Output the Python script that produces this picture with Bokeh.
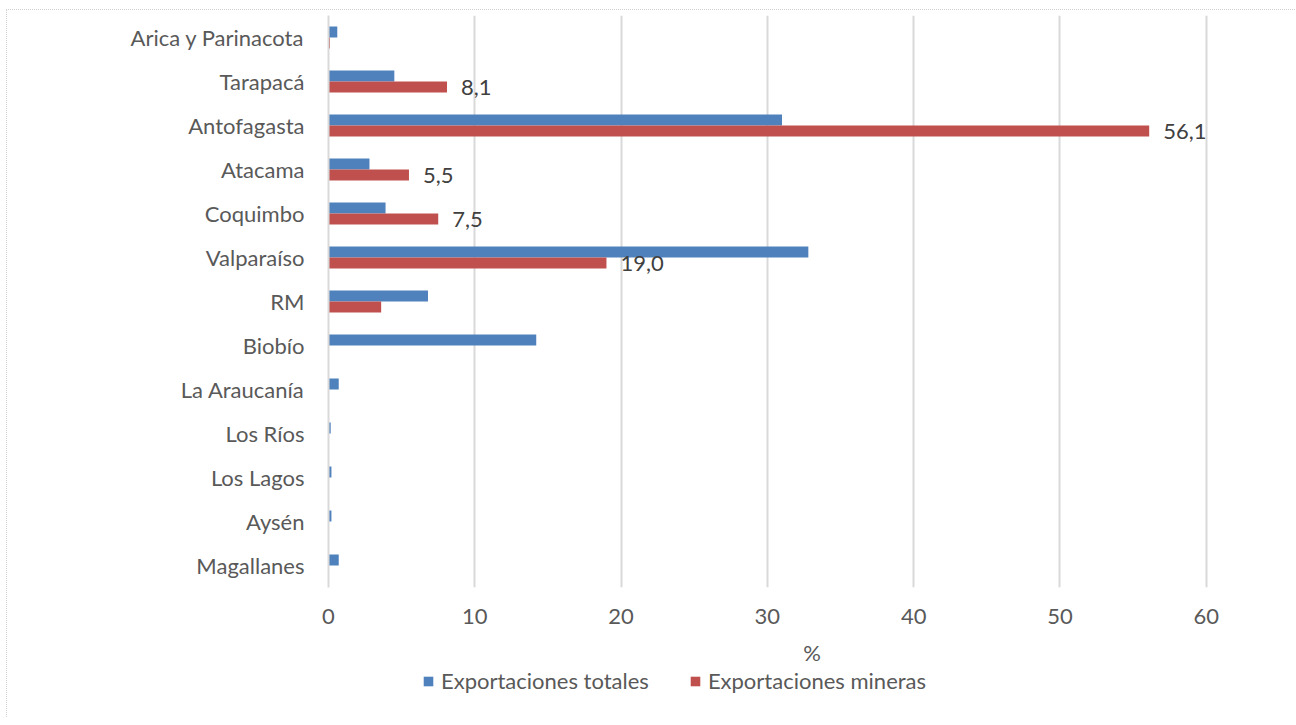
from bokeh.plotting import figure
from bokeh.layouts import column
from bokeh.models import ColumnDataSource, Legend, LegendItem, FactorRange, LabelSet
from bokeh.core.properties import value
from bokeh.transform import dodge
from bokeh.embed import file_html
from bokeh.resources import INLINE

regions = ["Arica y Parinacota", "Tarapacá", "Antofagasta", "Atacama", "Coquimbo",
           "Valparaíso", "RM", "Biobío", "La Araucanía", "Los Ríos", "Los Lagos",
           "Aysén", "Magallanes"]
totales = [0.6, 4.5, 31.0, 2.8, 3.9, 32.8, 6.8, 14.2, 0.7, 0.15, 0.2, 0.2, 0.7]
mineras = [0.1, 8.1, 56.1, 5.5, 7.5, 19.0, 3.6, 0.0, 0.0, 0.0, 0.0, 0.0, 0.0]
label_regions = ["Tarapacá", "Antofagasta", "Atacama", "Coquimbo", "Valparaíso"]
label_values = [8.1, 56.1, 5.5, 7.5, 19.0]
label_text = ["8,1", "56,1", "5,5", "7,5", "19,0"]
series_names = ["Exportaciones totales", "Exportaciones mineras"]

FONT = "Lato"
FS = "22px"
BLUE = "#4F81BD"
RED = "#C0504D"

src = ColumnDataSource(dict(region=regions, totales=totales, mineras=mineras))
lsrc = ColumnDataSource(dict(region=label_regions, v=label_values, t=label_text))

p = figure(width=1288, height=658, output_backend="svg", toolbar_location=None,
           y_range=FactorRange(factors=list(reversed(regions))),
           x_range=(0, 66.1), min_border_left=321, min_border_right=0,
           min_border_top=5, min_border_bottom=73)

rb = p.hbar(y=dodge("region", 0.125, range=p.y_range), right="totales", height=0.25,
            source=src, color=BLUE, line_color=None)
rr = p.hbar(y=dodge("region", -0.125, range=p.y_range), right="mineras", height=0.25,
            source=src, color=RED, line_color=None)

labels = LabelSet(x="v", y=dodge("region", -0.125, range=p.y_range), text="t",
                  x_offset=14, y_offset=0, source=lsrc, text_font=value(FONT),
                  text_font_size=FS, text_color="#404040", text_baseline="middle",
                  text_align="left")
p.add_layout(labels)

p.outline_line_color = None
p.ygrid.grid_line_color = None
p.xgrid.grid_line_color = "#d9d9d9"
p.xgrid.grid_line_width = 2
p.xaxis.ticker = [0, 10, 20, 30, 40, 50, 60]
p.xaxis.axis_line_color = None
p.xaxis.major_tick_line_color = None
p.xaxis.minor_tick_line_color = None
p.xaxis.major_label_text_font = FONT
p.xaxis.major_label_text_font_size = FS
p.xaxis.major_label_text_color = "#595959"
p.xaxis.major_label_standoff = 15
p.xaxis.axis_label = "%"
p.xaxis.axis_label_text_font = FONT
p.xaxis.axis_label_text_font_size = FS
p.xaxis.axis_label_text_font_style = "normal"
p.xaxis.axis_label_text_color = "#595959"
p.xaxis.axis_label_standoff = 12

p.yaxis.axis_line_color = "#d9d9d9"
p.yaxis.axis_line_width = 2
p.yaxis.major_tick_line_color = None
p.yaxis.minor_tick_line_color = None
p.yaxis.major_label_text_font = FONT
p.yaxis.major_label_text_font_size = FS
p.yaxis.major_label_text_color = "#595959"
p.yaxis.major_label_standoff = 18

# legend strip below the chart
pl = figure(width=1288, height=49, output_backend="svg", toolbar_location=None,
            x_axis_type=None, y_axis_type=None, x_range=(0, 1), y_range=(0, 1),
            min_border=0)
pl.outline_line_color = None
pl.xgrid.grid_line_color = None
pl.ygrid.grid_line_color = None
gb = pl.rect(x=[-5], y=[-5], width=1, height=1, color=BLUE, line_color=None)
gr = pl.rect(x=[-5], y=[-5], width=1, height=1, color=RED, line_color=None)
legend = Legend(items=[LegendItem(label=series_names[0], renderers=[gb]),
                       LegendItem(label=series_names[1], renderers=[gr])],
                orientation="horizontal", location=(94, 23),
                label_text_font=FONT, label_text_font_size=FS,
                label_text_color="#595959", glyph_width=12, glyph_height=12,
                spacing=40, padding=0, margin=0, border_line_color=None,
                background_fill_alpha=0, label_standoff=7, label_height=19)
pl.add_layout(legend, "center")

layout = column(p, pl, spacing=0)
layout.styles = {"border-left": "1px dotted #d0d0d0", "border-top": "1px dotted #d0d0d0",
                 "margin-left": "6px", "margin-top": "9px"}

open("out.html", "w").write(file_html(layout, INLINE))
